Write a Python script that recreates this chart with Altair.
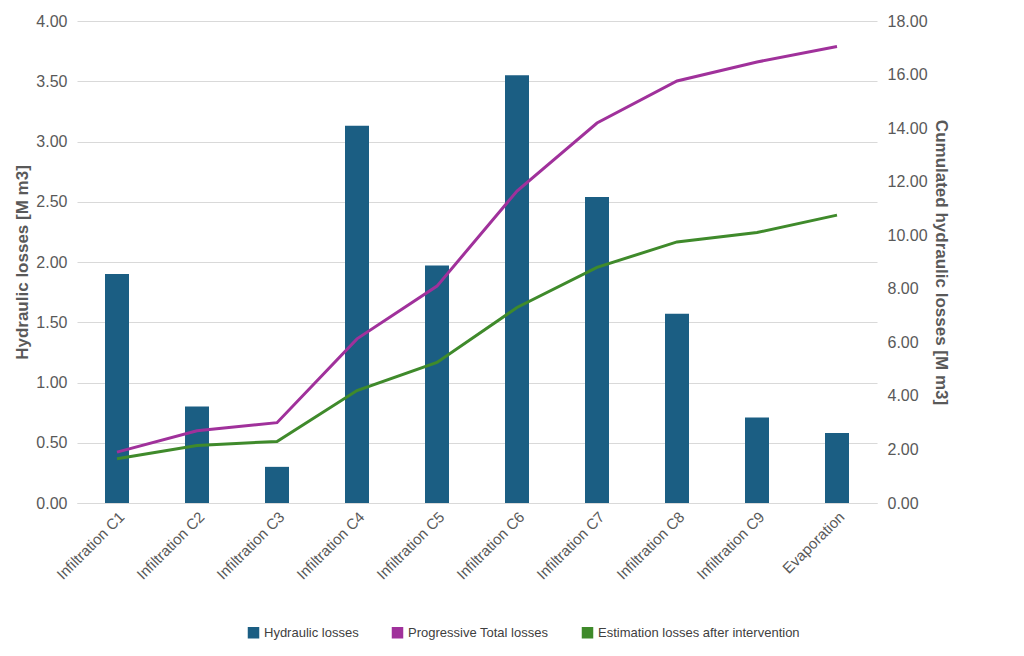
import pandas as pd
import altair as alt

categories = ["Infiltration C1", "Infiltration C2", "Infiltration C3", "Infiltration C4",
              "Infiltration C5", "Infiltration C6", "Infiltration C7", "Infiltration C8",
              "Infiltration C9", "Evaporation"]
losses = [1.90, 0.80, 0.30, 3.13, 1.97, 3.55, 2.54, 1.57, 0.71, 0.58]
progressive = [1.90, 2.70, 3.00, 6.13, 8.10, 11.65, 14.19, 15.76, 16.47, 17.05]
after_intervention = [1.65, 2.15, 2.30, 4.20, 5.25, 7.30, 8.80, 9.75, 10.10, 10.75]

names = ["Hydraulic losses", "Progressive Total losses", "Estimation losses after intervention"]
colors = ["#1b5e83", "#a0319b", "#3f8a2b"]

bars_df = pd.DataFrame({"cat": categories, "v": losses, "series": names[0]})
lines_df = pd.concat([
    pd.DataFrame({"cat": categories, "v": progressive, "series": names[1]}),
    pd.DataFrame({"cat": categories, "v": after_intervention, "series": names[2]}),
])

font = "Liberation Sans"
x = alt.X("cat:N", sort=categories, title=None,
          scale=alt.Scale(paddingInner=0.7, paddingOuter=0.35),
          axis=alt.Axis(labelAngle=-45, labelFontSize=15, labelColor="#595959",
                        domainColor="#d9d9d9", ticks=False, labelPadding=6, labelLimit=0))
color = alt.Color("series:N", scale=alt.Scale(domain=names, range=colors),
                  legend=alt.Legend(orient="none", legendX=170, legendY=605, direction="horizontal",
                                    title=None, labelFontSize=13, labelLimit=0,
                                    labelColor="#404040", symbolType="square", columnPadding=30))

bars = alt.Chart(bars_df).mark_bar().encode(
    x=x,
    y=alt.Y("v:Q", scale=alt.Scale(domain=[0, 4]),
            axis=alt.Axis(title="Hydraulic losses [M m3]", format=".2f",
                          values=[i * 0.5 for i in range(9)], gridColor="#d9d9d9",
                          labelOverlap=False, domain=False, ticks=False, labelFontSize=16,
                          labelColor="#595959", titleFontSize=17, titleColor="#595959",
                          labelPadding=10)),
    color=color,
)
lines = alt.Chart(lines_df).mark_line(strokeWidth=3).encode(
    x=x,
    y=alt.Y("v:Q", scale=alt.Scale(domain=[0, 18]),
            axis=alt.Axis(title="Cumulated hydraulic losses [M m3]", orient="right", format=".2f",
                          values=list(range(0, 19, 2)), grid=False, domain=False, ticks=False,
                          labelOverlap=False, labelFontSize=16, labelColor="#595959",
                          titleFontSize=17, titleColor="#595959", labelPadding=10)),
    color=color,
)

chart = alt.layer(bars, lines).resolve_scale(y="independent").properties(
    width=800, height=482
).configure(font=font).configure_view(stroke=None)

chart.save("out.html", embed_options={"renderer": "svg", "actions": False})
